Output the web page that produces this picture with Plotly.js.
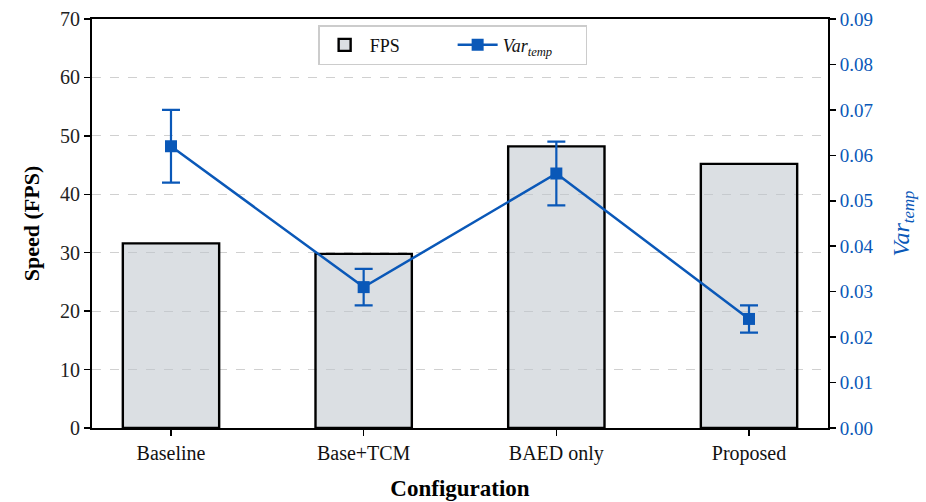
<!DOCTYPE html>
<html>
<head>
<meta charset="utf-8">
<script src="https://cdn.plot.ly/plotly-3.0.1.min.js"></script>
<style>html,body{margin:0;padding:0;background:#fff;}#chart{width:926px;height:502px;}</style>
</head>
<body>
<div id="chart"></div>
<script>
var categories = ["Baseline", "Base+TCM", "BAED only", "Proposed"];
var fpsValues = [31.6, 29.8, 48.2, 45.2];
var varValues = [0.062, 0.031, 0.056, 0.024];
var varErrors = [0.008, 0.004, 0.007, 0.003];
var leftTicks = [0, 10, 20, 30, 40, 50, 60, 70];
var rightTicks = [0, 0.01, 0.02, 0.03, 0.04, 0.05, 0.06, 0.07, 0.08, 0.09];

var blue = "#0a58b8";
var font = "'Liberation Serif', 'Times New Roman', serif";

var traces = [
  {
    type: "bar", x: categories, y: fpsValues, name: "FPS",
    width: 0.5,
    marker: {color: "rgba(190,196,204,0.55)", line: {color: "#000", width: 2.4}},
    yaxis: "y"
  },
  {
    type: "scatter", mode: "lines+markers", x: categories, y: varValues,
    name: "<i>Var<sub>temp</sub></i>",
    line: {color: blue, width: 2.5},
    marker: {symbol: "square", size: 12, color: blue},
    error_y: {type: "data", array: varErrors, visible: true, color: blue, thickness: 2.2, width: 9},
    yaxis: "y2"
  }
];

var layout = {
  width: 926, height: 502,
  margin: {l: 92, r: 98, t: 19, b: 74},
  paper_bgcolor: "#fff", plot_bgcolor: "#fff",
  font: {family: font, size: 20, color: "#222"},
  showlegend: true,
  legend: {
    orientation: "h", x: 0.49, y: 0.985, xanchor: "center", yanchor: "top",
    bordercolor: "#cccccc", borderwidth: 1.5, bgcolor: "rgba(255,255,255,0.9)",
    itemwidth: 40, entrywidth: 78,
    font: {family: font, size: 18, color: "#111"}
  },
  xaxis: {
    range: [-0.41, 3.41],
    showline: true, linecolor: "#000", linewidth: 2, mirror: true,
    ticks: "outside", ticklen: 6, tickwidth: 1.5, tickcolor: "#000",
    showgrid: false,
    tickfont: {family: font, size: 20, color: "#111"},
    title: {text: "<b>Configuration</b>", font: {family: font, size: 23, color: "#000"}, standoff: 16}
  },
  yaxis: {
    range: [0, 70], tickvals: leftTicks,
    showline: true, linecolor: "#000", linewidth: 2,
    ticks: "outside", ticklen: 6, tickwidth: 1.5, tickcolor: "#000",
    showgrid: true, gridcolor: "#d0d0d0", griddash: "dash", gridwidth: 1,
    zeroline: false,
    tickfont: {family: font, size: 20, color: "#222"},
    title: {text: "<b>Speed (FPS)</b>", font: {family: font, size: 22, color: "#000"}, standoff: 14}
  },
  yaxis2: {
    overlaying: "y", side: "right",
    range: [0, 0.09], tickvals: rightTicks, tickformat: ".2f",
    showline: true, linecolor: "#000", linewidth: 2,
    ticks: "outside", ticklen: 6, tickwidth: 1.5, tickcolor: "#000",
    showgrid: false, zeroline: false,
    tickfont: {family: font, size: 19, color: blue},
    title: {text: "<i>Var<sub>temp</sub></i>", font: {family: font, size: 24, color: blue}, standoff: 20}
  }
};

Plotly.newPlot("chart", traces, layout, {displayModeBar: false, staticPlot: true});
</script>
</body>
</html>
